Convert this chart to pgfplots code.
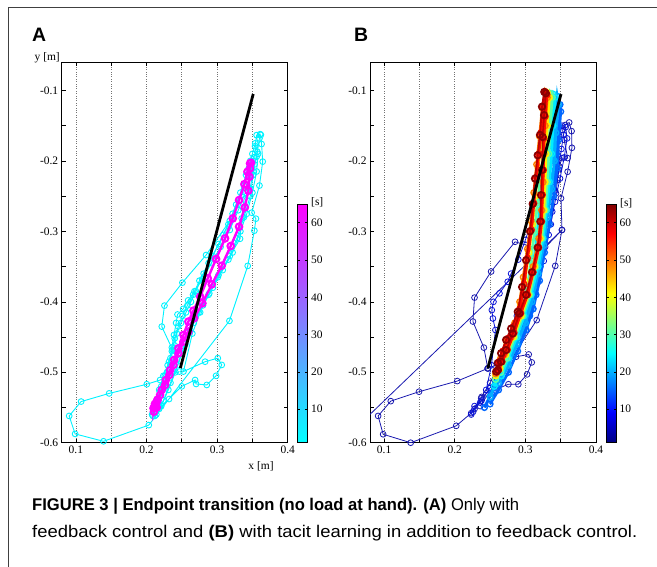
\documentclass[border=0pt]{standalone}
\usepackage{fontspec}
\setmainfont{Liberation Serif}
\newfontfamily\capfont{Liberation Sans}
\usepackage{pgfplots}
\pgfplotsset{compat=1.18}

\definecolor{cyn}{rgb}{0,0.95,1}
\definecolor{mag}{rgb}{1,0,1}
\definecolor{navy1}{RGB}{25,25,175}
\definecolor{navy2}{RGB}{10,20,215}
\definecolor{jb1}{rgb}{0,0.4,1}
\definecolor{jb2}{rgb}{0,0.68,1}
\definecolor{jb3}{rgb}{0,0.92,1}
\definecolor{jb4}{rgb}{0.35,1,0.65}
\definecolor{jb5}{rgb}{1,0.95,0}
\definecolor{jb6}{rgb}{1,0.5,0}
\definecolor{jb7}{rgb}{1,0.05,0}
\definecolor{jb8}{rgb}{0.75,0,0}
\definecolor{jb9}{rgb}{0.55,0,0}

\pgfplotsset{
  panel/.style={
    scale only axis, width=226bp, height=380.4bp,
    xmin=0.08, xmax=0.4, ymin=-0.6, ymax=-0.06,
    clip mode=individual,
    xtick={0.1,0.2,0.3,0.4}, xticklabels={0.1,0.2,0.3,0.4},
    minor xtick={0.15,0.25,0.35},
    ytick={-0.6,-0.5,-0.4,-0.3,-0.2,-0.1},
    yticklabels={-0.6,-0.5,-0.4,-0.3,-0.2,-0.1},
    minor ytick={-0.55,-0.45,-0.35,-0.25,-0.15},
    xmajorgrids, xminorgrids,
    major grid style={dotted, black!55, line width=0.6bp},
    minor grid style={dotted, black!55, line width=0.6bp},
    tick align=inside, major tick length=4bp, minor tick length=4bp,
    tick style={black, line width=0.6bp},
    axis line style={line width=1bp},
    tick label style={font=\fontsize{11.5}{13}\selectfont},
    point meta min=1, point meta max=65,
    colorbar,
    colorbar style={
      scale only axis, width=10bp, height=238.7bp,
      at={(parent axis.south east)}, anchor=south west, xshift=1.5bp,
      ytick={10,20,30,40,50,60}, yticklabels={10,20,30,40,50,60},
      tick align=inside, major tick length=2.5bp,
      axis line style={line width=1bp},
      tick label style={font=\fontsize{11.5}{13}\selectfont},
    },
  },
  cyanpath/.style={color=cyn, line width=0.9bp, mark=o, mark size=2.9bp,
    mark options={solid, line width=0.9bp}},
  navypath/.style={color=navy1, line width=0.8bp,
    mark=o, mark size=2.9bp, mark options={solid, line width=0.8bp}},
  bandpath/.style={color=#1, line width=2.8bp, mark=o, mark size=2.9bp,
    mark options={solid, line width=1.4bp}},
}

\begin{document}
\begin{tikzpicture}[x=1bp,y=1bp]
\useasboundingbox (0,0) rectangle (657,-567);
\draw[line width=0.8bp, black!75] (8.5,-567) -- (8.5,-7.5) -- (657,-7.5);

% ---------------- panel A
\begin{axis}[panel, at={(61.7bp,-442.7bp)}, anchor=south west,
  colormap={cool}{rgb=(0,1,1) rgb=(1,0,1)}]
\addplot[cyanpath] coordinates {
(0.2467,-0.499) (0.2193,-0.511) (0.2005,-0.517) (0.1472,-0.530) (0.1075,-0.5416)
(0.0906,-0.562) (0.099,-0.5875) (0.1392,-0.598) (0.2033,-0.575) (0.3175,-0.427)
(0.3434,-0.349) (0.3528,-0.299) (0.355,-0.282) (0.349,-0.2735) (0.360,-0.235)
(0.3646,-0.201) (0.363,-0.176) (0.361,-0.162) (0.356,-0.1634) (0.3538,-0.179)
(0.356,-0.194) (0.3514,-0.215) (0.3467,-0.239) (0.3382,-0.2546) (0.3349,-0.2816)
(0.3325,-0.3105) (0.318,-0.335) (0.302,-0.362) (0.289,-0.388) (0.276,-0.415)
(0.265,-0.445) (0.2524,-0.499) (0.283,-0.485) (0.301,-0.480) (0.3066,-0.4896)
(0.2986,-0.505) (0.2854,-0.518) (0.2703,-0.5166) (0.2689,-0.511) (0.250,-0.52)
(0.232,-0.538) (0.218,-0.552)};
\addplot[cyanpath] coordinates {
(0.318,-0.285) (0.2844,-0.3336) (0.2509,-0.3728) (0.2255,-0.4054) (0.2217,-0.4352)
(0.237,-0.468) (0.243,-0.482) (0.236,-0.50) (0.226,-0.522) (0.216,-0.545) (0.209,-0.562)};
\addplot[cyanpath] coordinates {
(0.208,-0.56) (0.212,-0.545) (0.218,-0.525) (0.224,-0.505) (0.230,-0.49) (0.236,-0.47)
(0.240,-0.452) (0.245,-0.435) (0.251,-0.42) (0.258,-0.405) (0.266,-0.39) (0.275,-0.37)
(0.288,-0.345) (0.302,-0.318) (0.316,-0.29) (0.327,-0.262) (0.338,-0.235) (0.345,-0.21)
(0.350,-0.19) (0.354,-0.175) (0.358,-0.19) (0.356,-0.215) (0.350,-0.245) (0.342,-0.275)
(0.333,-0.30) (0.322,-0.33) (0.308,-0.355) (0.294,-0.38) (0.28,-0.405) (0.267,-0.43)
(0.255,-0.46) (0.244,-0.49) (0.234,-0.515) (0.224,-0.54) (0.214,-0.56)};
\addplot[cyanpath] coordinates {
(0.211,-0.555) (0.216,-0.538) (0.221,-0.52) (0.229,-0.50) (0.234,-0.48) (0.240,-0.462)
(0.243,-0.445) (0.249,-0.43) (0.256,-0.415) (0.263,-0.40) (0.270,-0.385) (0.281,-0.36)
(0.294,-0.335) (0.309,-0.305) (0.322,-0.275) (0.333,-0.245) (0.341,-0.22) (0.347,-0.20)
(0.352,-0.195) (0.351,-0.22) (0.347,-0.25) (0.338,-0.28) (0.328,-0.31) (0.316,-0.34)
(0.301,-0.365) (0.288,-0.39) (0.274,-0.415) (0.262,-0.44) (0.251,-0.47) (0.241,-0.50)
(0.231,-0.525) (0.221,-0.548) (0.212,-0.562)};
\addplot[cyanpath] coordinates {
(0.213,-0.55) (0.219,-0.528) (0.226,-0.505) (0.232,-0.485) (0.236,-0.465) (0.239,-0.447)
(0.242,-0.43) (0.244,-0.418) (0.252,-0.41) (0.259,-0.398) (0.268,-0.385) (0.279,-0.368)
(0.292,-0.345) (0.305,-0.322) (0.318,-0.298) (0.33,-0.27) (0.34,-0.245) (0.348,-0.222)
(0.353,-0.205) (0.357,-0.187) (0.36,-0.168) (0.362,-0.163)};
\addplot[color=mag, line width=2.4bp, mark=o, mark size=3.3bp,
  mark options={solid, line width=2bp}] coordinates {
(0.210,-0.551) (0.2156,-0.539) (0.2217,-0.525) (0.2274,-0.511) (0.2335,-0.497)
(0.2392,-0.4825) (0.2453,-0.466) (0.2524,-0.447) (0.2594,-0.428) (0.2665,-0.4125)
(0.276,-0.3927) (0.2868,-0.3667) (0.2986,-0.3392) (0.3113,-0.31) (0.3222,-0.2816)
(0.3311,-0.2556) (0.3387,-0.2329) (0.343,-0.2154) (0.3467,-0.2035) (0.348,-0.2026)
(0.3467,-0.2106) (0.3458,-0.2225) (0.3443,-0.2423) (0.3392,-0.266) (0.3311,-0.2934)
(0.3193,-0.3208) (0.3066,-0.3487) (0.2925,-0.3752) (0.2792,-0.4021) (0.2675,-0.4234)
(0.2594,-0.4423) (0.2524,-0.4565) (0.2453,-0.473) (0.2382,-0.4896) (0.2325,-0.5038)
(0.2264,-0.518) (0.2193,-0.5322) (0.2137,-0.544) (0.2108,-0.551)
(0.2105,-0.556) (0.213,-0.548) (0.2155,-0.54) (0.212,-0.545) (0.2145,-0.55)};
\addplot[black, line width=2.8bp] coordinates {(0.248,-0.494) (0.3512,-0.105)};
\end{axis}

% ---------------- panel B
\begin{axis}[panel, at={(370bp,-442.7bp)}, anchor=south west, colormap/jet]
\addplot[navypath] coordinates {
(0.2468,-0.4945) (0.2035,-0.5125) (0.1494,-0.5276) (0.1094,-0.541) (0.0915,-0.562)
(0.0986,-0.588) (0.1376,-0.600) (0.2021,-0.576) (0.2233,-0.558) (0.2374,-0.537)
(0.2445,-0.530) (0.276,-0.517) (0.290,-0.517) (0.3024,-0.503) (0.309,-0.486)
(0.3047,-0.4747) (0.2868,-0.478) (0.2468,-0.4945)};
\addplot[navypath] coordinates {
(0.2468,-0.4945) (0.2412,-0.465) (0.2257,-0.428) (0.228,-0.394) (0.2515,-0.357)
(0.2854,-0.3148) (0.3245,-0.3266) (0.3518,-0.298) (0.0600,-0.5790)};
\addplot[navypath] coordinates {
(0.236,-0.548) (0.316,-0.426) (0.3423,-0.349) (0.3518,-0.298) (0.3504,-0.253)
(0.3598,-0.2154) (0.3659,-0.1814) (0.3654,-0.1577) (0.362,-0.1454) (0.3565,-0.149)
(0.3527,-0.156) (0.355,-0.170) (0.3598,-0.196) (0.3518,-0.196) (0.348,-0.208)
(0.3456,-0.227) (0.3433,-0.246) (0.3348,-0.258) (0.330,-0.285) (0.322,-0.32)
(0.312,-0.355) (0.30,-0.39) (0.288,-0.42) (0.275,-0.455) (0.262,-0.49) (0.25,-0.515)
(0.238,-0.535) (0.228,-0.552)};
\addplot[navypath, color=navy2] coordinates {
(0.2233,-0.56) (0.228,-0.548) (0.238,-0.54) (0.25,-0.522) (0.262,-0.502) (0.272,-0.482)
(0.285,-0.457) (0.297,-0.432) (0.308,-0.402) (0.318,-0.372) (0.326,-0.342) (0.333,-0.305)
(0.338,-0.272) (0.342,-0.242) (0.347,-0.212) (0.351,-0.183) (0.354,-0.163) (0.357,-0.152)
(0.359,-0.168) (0.355,-0.195) (0.349,-0.225) (0.342,-0.258) (0.336,-0.29) (0.328,-0.322)
(0.32,-0.352) (0.312,-0.382) (0.301,-0.412) (0.29,-0.44) (0.277,-0.47) (0.263,-0.498)
(0.25,-0.522) (0.236,-0.543) (0.226,-0.556)};
\addplot[navypath, color=navy2] coordinates {
(0.2445,-0.525) (0.252,-0.49) (0.2576,-0.44) (0.254,-0.4236) (0.2525,-0.4117)
(0.2548,-0.40) (0.2633,-0.388) (0.275,-0.3715) (0.2798,-0.36) (0.29,-0.34) (0.30,-0.312)
(0.311,-0.28) (0.322,-0.25) (0.333,-0.22) (0.342,-0.19) (0.348,-0.165) (0.352,-0.15)};
% band of later trials, early to late
\addplot[bandpath=jb1] coordinates {
(0.242,-0.55) (0.252,-0.53) (0.263,-0.51) (0.276,-0.48) (0.292,-0.45) (0.306,-0.42)
(0.315,-0.39) (0.321,-0.35) (0.326,-0.31) (0.331,-0.27) (0.338,-0.23) (0.344,-0.19)
(0.347,-0.15) (0.349,-0.12) (0.350,-0.13) (0.347,-0.17) (0.345,-0.21) (0.340,-0.25)
(0.334,-0.29) (0.327,-0.33) (0.320,-0.37) (0.311,-0.41) (0.301,-0.44) (0.289,-0.47)
(0.276,-0.50) (0.262,-0.525) (0.250,-0.545)};
\addplot[bandpath=jb2] coordinates {
(0.250,-0.535) (0.258,-0.515) (0.267,-0.495) (0.277,-0.47) (0.291,-0.44) (0.303,-0.41)
(0.311,-0.38) (0.318,-0.34) (0.322,-0.30) (0.327,-0.26) (0.334,-0.22) (0.339,-0.18)
(0.342,-0.14) (0.345,-0.108) (0.347,-0.12) (0.343,-0.16) (0.341,-0.20) (0.337,-0.24)
(0.331,-0.28) (0.326,-0.32) (0.318,-0.36) (0.309,-0.40) (0.300,-0.43) (0.288,-0.46)
(0.276,-0.49) (0.262,-0.515)};
\addplot[bandpath=jb3] coordinates {
(0.256,-0.52) (0.264,-0.50) (0.273,-0.475) (0.283,-0.45) (0.296,-0.42) (0.305,-0.39)
(0.311,-0.35) (0.316,-0.31) (0.320,-0.27) (0.326,-0.23) (0.332,-0.19) (0.336,-0.15)
(0.339,-0.105) (0.342,-0.11) (0.339,-0.15) (0.337,-0.19) (0.334,-0.23) (0.330,-0.27)
(0.325,-0.31) (0.318,-0.35) (0.308,-0.39) (0.298,-0.42) (0.288,-0.45) (0.276,-0.48)
(0.266,-0.505)};
\addplot[bandpath=jb4] coordinates {
(0.258,-0.51) (0.266,-0.49) (0.275,-0.465) (0.286,-0.44) (0.296,-0.41) (0.303,-0.38)
(0.308,-0.34) (0.313,-0.30) (0.317,-0.26) (0.322,-0.22) (0.327,-0.18) (0.331,-0.14)
(0.335,-0.104) (0.338,-0.11) (0.335,-0.15) (0.333,-0.19) (0.331,-0.23) (0.328,-0.27)
(0.323,-0.31) (0.315,-0.35) (0.306,-0.39) (0.296,-0.42) (0.285,-0.45) (0.274,-0.48)
(0.265,-0.50)};
\addplot[bandpath=jb5] coordinates {
(0.258,-0.505) (0.265,-0.485) (0.274,-0.46) (0.285,-0.435) (0.293,-0.405) (0.299,-0.37)
(0.305,-0.33) (0.310,-0.29) (0.314,-0.25) (0.318,-0.21) (0.323,-0.17) (0.327,-0.13)
(0.331,-0.103) (0.334,-0.11) (0.331,-0.15) (0.329,-0.19) (0.328,-0.23) (0.326,-0.27)
(0.321,-0.31) (0.313,-0.35) (0.304,-0.39) (0.294,-0.42) (0.283,-0.45) (0.272,-0.475)
(0.264,-0.495)};
\addplot[bandpath=jb6] coordinates {
(0.258,-0.502) (0.265,-0.48) (0.274,-0.455) (0.285,-0.43) (0.292,-0.40) (0.297,-0.365)
(0.303,-0.325) (0.308,-0.285) (0.312,-0.245) (0.316,-0.205) (0.320,-0.165) (0.324,-0.125)
(0.328,-0.102) (0.331,-0.11) (0.328,-0.15) (0.326,-0.19) (0.325,-0.23) (0.323,-0.27)
(0.319,-0.31) (0.311,-0.35) (0.302,-0.39) (0.291,-0.42) (0.280,-0.45) (0.270,-0.475)
(0.262,-0.495)};
\addplot[bandpath=jb7] coordinates {
(0.2595,-0.50) (0.2625,-0.485) (0.268,-0.47) (0.275,-0.452) (0.283,-0.435) (0.292,-0.41)
(0.298,-0.375) (0.303,-0.338) (0.3085,-0.298) (0.312,-0.26) (0.3155,-0.223) (0.319,-0.19)
(0.322,-0.16) (0.325,-0.122) (0.328,-0.102) (0.3305,-0.106) (0.328,-0.137) (0.326,-0.168)
(0.3255,-0.213) (0.324,-0.248) (0.323,-0.286) (0.319,-0.323) (0.311,-0.358) (0.303,-0.39)
(0.2935,-0.416) (0.284,-0.444) (0.2745,-0.468) (0.267,-0.485) (0.262,-0.497)};
\addplot[color=jb8, line width=1.8bp, mark=o, mark size=3.2bp,
  mark options={solid, line width=1.8bp, color=jb9}] coordinates {
(0.2586,-0.499) (0.2609,-0.487) (0.2656,-0.473) (0.2727,-0.454) (0.2798,-0.438)
(0.2892,-0.414) (0.2953,-0.379) (0.301,-0.341) (0.3066,-0.300) (0.3104,-0.261)
(0.3136,-0.225) (0.3174,-0.192) (0.3207,-0.163) (0.3235,-0.123) (0.3268,-0.102)
(0.329,-0.104) (0.3265,-0.135) (0.3245,-0.166) (0.3235,-0.213) (0.3221,-0.2485)
(0.3212,-0.286) (0.3174,-0.323) (0.3094,-0.358) (0.301,-0.390) (0.2915,-0.4165)
(0.2821,-0.445) (0.2727,-0.4685) (0.2656,-0.485) (0.2609,-0.497)};
\addplot[black, line width=2.8bp] coordinates {(0.2468,-0.4945) (0.3504,-0.1052)};
\end{axis}

% ---------------- labels
\node[anchor=base west, inner sep=0] at (32,-41.7)
  {\capfont\bfseries\fontsize{19.5}{22}\selectfont A};
\node[anchor=base west, inner sep=0] at (354,-41.7)
  {\capfont\bfseries\fontsize{19.5}{22}\selectfont B};
\node[anchor=base east, inner sep=0] at (60,-61) {\fontsize{11.5}{13}\selectfont y [m]};
\node[anchor=base, inner sep=0] at (261,-469) {\fontsize{11.5}{13}\selectfont x [m]};
\node[anchor=west, inner sep=0] at (311,-202) {\fontsize{11.5}{13}\selectfont [s]};
\node[anchor=west, inner sep=0] at (620,-203) {\fontsize{11.5}{13}\selectfont [s]};

\node[anchor=base west, inner sep=0] at (32,-510)
  {\resizebox{487bp}{\height}{\capfont\fontsize{17}{20}\selectfont
   \textbf{FIGURE 3 | Endpoint transition (no load at hand). (A)} Only with}};
\node[anchor=base west, inner sep=0] at (32,-537)
  {\resizebox{605bp}{\height}{\capfont\fontsize{17}{20}\selectfont
   feedback control and \textbf{(B)} with tacit learning in addition to feedback control.}};
\end{tikzpicture}
\end{document}
